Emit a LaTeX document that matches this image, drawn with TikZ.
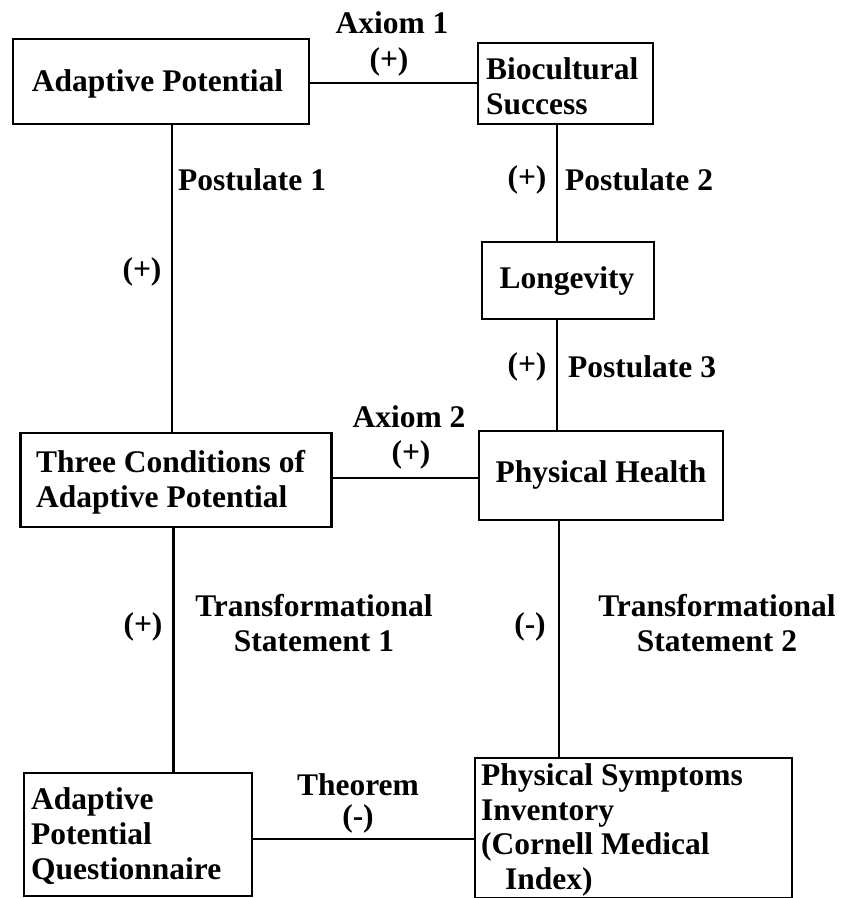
\documentclass[tikz,border=0pt]{standalone}
\usepackage{fontspec}
\setmainfont{Liberation Serif}
\usetikzlibrary{calc}
\begin{document}
\begin{tikzpicture}[x=1pt,y=-1pt,
  every node/.style={font=\fontsize{31.5}{35}\selectfont\bfseries, inner sep=0pt},
  box/.style={draw, line width=2.8pt, inner sep=0pt},
  conn/.style={line width=2.3pt},
  lbl/.style={align=center}]
\useasboundingbox (0,0) rectangle (846,898);
% boxes
\node[box, minimum width=296pt, minimum height=85pt] (ap) at (161,81.5) {};
\node (apt) at (157.5,84) {Adaptive Potential};
\node[box, minimum width=175pt, minimum height=81pt] (bs) at (565.5,83.5) {};
\node[anchor=west, align=left] (bst) at (486,86) {Biocultural\\Success};
\node[box, minimum width=172pt, minimum height=77pt] (lon) at (568,280.5) {};
\node (lont) at (567,281) {Longevity};
\node[box, minimum width=311pt, minimum height=94pt] (tc) at (176,480) {};
\node[anchor=west, align=left] (tct) at (36,482) {Three Conditions of\\Adaptive Potential};
\node[box, minimum width=244pt, minimum height=89pt] (ph) at (601,475.5) {};
\node (pht) at (601,475) {Physical Health};
\node[box, minimum width=228pt, minimum height=123pt] (apq) at (138,834.5) {};
\node[anchor=west, align=left] (apqt) at (31,836) {Adaptive\\Potential\\Questionnaire};
\node[box, minimum width=317pt, minimum height=140pt] (psi) at (633.5,828) {};
\node[anchor=west, align=left, font=\fontsize{31.5}{34.5}\selectfont\bfseries] (psit) at (481,830) {Physical Symptoms\\Inventory\\(Cornell Medical\\\hspace*{24pt}Index)};
% connector positions
\coordinate (lx) at (172,0);
\coordinate (rx) at (557,0);
\coordinate (my) at (0,478);
% connectors
\draw[conn] (ap.east |- 0,83) coordinate (ape) -- (ape -| bs.west);
\draw[conn] (ap.south -| lx) -- (tc.north -| lx);
\draw[conn] (bs.south -| rx) -- (lon.north -| rx);
\draw[conn] (lon.south -| rx) -- (ph.north -| rx);
\draw[conn] (tc.east |- my) -- (ph.west |- my);
\draw[conn] (tc.south -| lx) ++(1.5,0) coordinate (tcs) -- (tcs |- apq.north);
\draw[conn] (ph.south -| rx) ++(2,0) coordinate (phs) -- (phs |- psi.north);
\draw[conn] (apq.east |- 0,839) coordinate (apqe) -- (apqe -| psi.west);
% labels
\node (a1) at (392,23) {Axiom 1};
\node (a1s) at (389,62) {(+)};
\node[anchor=west] (p1) at (178,180) {Postulate 1};
\node (p1s) at (142,272) {(+)};
\node (p2s) at (527,180) {(+)};
\node[anchor=west] (p2) at (565,180) {Postulate 2};
\node (p3s) at (527,367) {(+)};
\node[anchor=west] (p3) at (568,367) {Postulate 3};
\node (a2) at (409,417) {Axiom 2};
\node (a2s) at (411,455) {(+)};
\node (t1s) at (143,627) {(+)};
\node[lbl] (t1) at (314,623) {Transformational\\Statement 1};
\node (t2s) at (530,627) {(-)};
\node[lbl] (t2) at (717,623) {Transformational\\Statement 2};
\node[lbl, font=\fontsize{31.5}{31}\selectfont\bfseries] (th) at (358,803) {Theorem\\(-)};
\end{tikzpicture}
\end{document}
